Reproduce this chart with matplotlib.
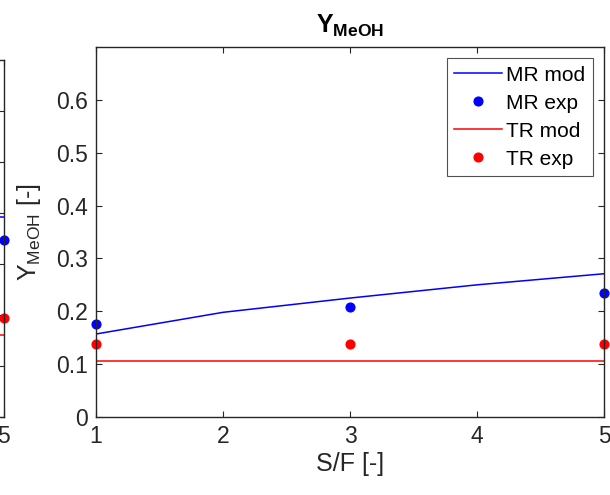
import numpy as np
import matplotlib
matplotlib.use('Agg')
import matplotlib.pyplot as plt

plt.rcParams['font.family'] = ['Liberation Sans', 'DejaVu Sans']
plt.rcParams['mathtext.fontset'] = 'custom'
plt.rcParams['mathtext.rm'] = 'Liberation Sans'
plt.rcParams['mathtext.it'] = 'Liberation Sans:italic'
plt.rcParams['mathtext.bf'] = 'Liberation Sans:bold'

# main panel data (S/F ratio)
sf_mod = [1, 2, 3, 4, 5]
mr_mod = [0.157, 0.198, 0.225, 0.250, 0.271]
tr_mod = [0.106, 0.106, 0.106, 0.106, 0.106]
sf_exp = [1, 3, 5]
mr_exp = [0.175, 0.208, 0.235]
tr_exp = [0.139, 0.139, 0.139]
sf_ticks = [1, 2, 3, 4, 5]
y_ticks = [0, 0.1, 0.2, 0.3, 0.4, 0.5, 0.6]
y_ticklabels = ['0', '0.1', '0.2', '0.3', '0.4', '0.5', '0.6']

# neighbouring panel, only its right edge is visible
left_x_mod = [4, 5]
left_mr_mod = [0.40, 0.392]
left_tr_mod = [0.161, 0.161]
left_x_exp = [5]
left_mr_exp = [0.347]
left_tr_exp = [0.194]
left_xticklabels = ['', '', '', '', '5']

dark = (0.15, 0.15, 0.15)
fs_tick = 16.5
fs_lab = 18
fs_leg = 15

fig = plt.figure(figsize=(6.10, 4.95), dpi=100)

def style(ax):
    for s in ax.spines.values():
        s.set_color(dark)
        s.set_linewidth(1.0)
    ax.tick_params(direction='in', top=True, right=True, colors=dark,
                   labelsize=fs_tick, length=4, width=0.8, pad=6)

# partial left panel
axl = fig.add_axes([-0.83, 0.1576, 0.8361, 0.7212])
axl.plot(left_x_mod, left_mr_mod, color='blue', lw=1.1)
axl.plot(left_x_exp, left_mr_exp, 'o', color='blue', ms=6.3, clip_on=False)
axl.plot(left_x_mod, left_tr_mod, color='red', lw=1.1)
axl.plot(left_x_exp, left_tr_exp, 'o', color='red', ms=6.3, clip_on=False)
axl.set_xlim(1, 5)
axl.set_ylim(0, 0.7)
axl.set_xticks(sf_ticks)
axl.set_xticklabels(left_xticklabels)
axl.set_yticks(y_ticks)
axl.set_yticklabels([])
style(axl)

# main panel
ax = fig.add_axes([0.1574, 0.1576, 0.8328, 0.7475])
ax.plot(sf_mod, mr_mod, color='blue', lw=1.1, label='MR mod')
ax.plot(sf_exp, mr_exp, 'o', color='blue', ms=6.3, clip_on=False, label='MR exp')
ax.plot(sf_mod, tr_mod, color='red', lw=1.1, label='TR mod')
ax.plot(sf_exp, tr_exp, 'o', color='red', ms=6.3, clip_on=False, label='TR exp')
ax.set_xlim(1, 5)
ax.set_ylim(0, 0.7)
ax.set_xticks(sf_ticks)
ax.set_yticks(y_ticks)
ax.set_yticklabels(y_ticklabels)
style(ax)

ax.set_xlabel('S/F [-]', fontsize=fs_lab, color=dark, labelpad=3)
ax.set_ylabel(r'$\mathrm{Y_{MeOH}}$ [-]', fontsize=fs_lab, color=dark, labelpad=9)
ax.set_title(r'$\mathbf{Y_{MeOH}}$', fontsize=fs_lab, pad=10)

leg = ax.legend(loc='upper right', fontsize=fs_leg, frameon=True, fancybox=False,
                edgecolor=dark, handlelength=2.3, handletextpad=0.2,
                labelspacing=0.43, borderpad=0.35, borderaxespad=0.55)
leg.get_frame().set_linewidth(0.8)

fig.savefig('out.png', dpi=100)
